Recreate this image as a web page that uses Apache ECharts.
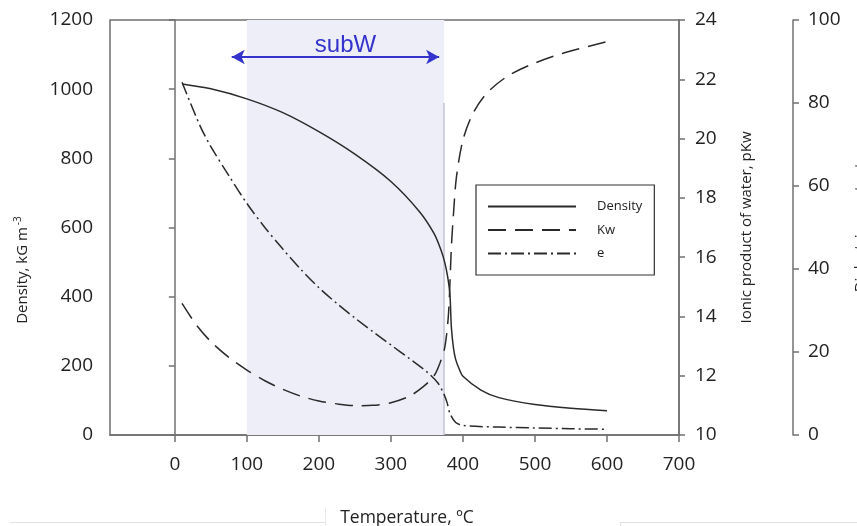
<!DOCTYPE html>
<html>
<head>
<meta charset="utf-8">
<script src="https://cdn.jsdelivr.net/npm/echarts@6/dist/echarts.min.js"></script>
<style>html,body{margin:0;padding:0;background:#fff}#c{width:857px;height:526px}</style>
</head>
<body>
<div id="c"></div>
<script>
// ---- data ----
const xTicks = [0, 100, 200, 300, 400, 500, 600, 700];
const densityT = [10, 50, 100, 150, 200, 250, 300, 340, 360, 370, 375, 379, 382, 384, 387, 390, 395, 400, 425, 450, 500, 550, 600];
const densityV = [1015, 1001, 972, 932, 877, 812, 733, 645, 582, 532, 497, 455, 405, 310, 250, 218, 190, 170, 130, 108, 88, 77, 70];
const kwT = [10, 30, 50, 75, 100, 125, 150, 175, 200, 225, 250, 275, 300, 325, 345, 360, 368, 375, 380, 384, 387, 391, 400, 414, 433, 461, 493, 539, 600];
const kwV = [14.44, 13.71, 13.15, 12.62, 12.19, 11.83, 11.54, 11.31, 11.15, 11.05, 10.99, 11.0, 11.09, 11.3, 11.63, 12.0, 12.42, 12.98, 14.1, 16.35, 17.5, 18.7, 19.95, 20.85, 21.53, 22.09, 22.48, 22.88, 23.27];
const eT = [10, 35, 50, 75, 100, 125, 150, 175, 200, 225, 250, 275, 300, 325, 350, 365, 373, 378, 382, 390, 400, 450, 500, 550, 600];
const eV = [85, 74.5, 69.5, 62.5, 55.8, 50, 44.8, 39.9, 35.5, 31.7, 28.2, 24.9, 21.7, 18.5, 15.2, 12.6, 10.1, 7.8, 5.2, 3, 2.3, 1.9, 1.7, 1.5, 1.4];
const subWRange = [100, 374];      // shaded sub-critical water region
const arrowRange = [79, 367];      // arrow end temperatures
const arrowLevel = 1093;           // arrow height on density axis
const criticalLineTop = 960;       // top of the vertical line at 374 °C

const pairs = (xs, ys) => xs.map((x, i) => [x, ys[i]]);

const FONT = '"Open Sans", "Liberation Sans", sans-serif';
const axisColor = '#707070';
const textColor = '#222222';
const plain = v => String(v);

const chart = echarts.init(document.getElementById('c'), null, {renderer: 'canvas'});
const option = {
  animation: false,
  backgroundColor: '#ffffff',
  grid: {left: 110, right: 178, top: 20, bottom: 91, containLabel: false, outerBoundsMode: 'none',
    show: true, borderColor: axisColor, borderWidth: 1.5, backgroundColor: 'transparent'},
  xAxis: {
    type: 'value', min: -90, max: 700,
    name: 'Temperature, ºC', nameLocation: 'middle', nameGap: 74,
    nameTextStyle: {fontFamily: FONT, fontSize: 17.5, color: textColor, padding: [0, 0, 0, 25]},
    axisLine: {lineStyle: {color: axisColor, width: 1.5}},
    axisTick: {show: true, length: 7, customValues: xTicks, lineStyle: {color: axisColor, width: 1.5}},
    axisLabel: {customValues: xTicks, margin: 20, fontFamily: FONT, fontSize: 19, color: textColor, formatter: plain},
    splitLine: {show: false}
  },
  yAxis: [
    {
      type: 'value', min: 0, max: 1200, interval: 200, position: 'left',
      name: '{a|Density, kG m}{s|-3}', nameLocation: 'middle', nameGap: 77,
      nameTextStyle: {fontFamily: FONT, fontSize: 15, color: textColor, padding: [0, 85, 0, 0],
        rich: {a: {fontFamily: FONT, fontSize: 15, color: textColor}, s: {fontFamily: FONT, fontSize: 10, color: textColor, verticalAlign: 'top', padding: [0, 0, 10, 2]}}},
      axisLine: {show: true, lineStyle: {color: axisColor, width: 1.5}},
      axisTick: {show: true, length: 6, lineStyle: {color: axisColor, width: 1.5}},
      axisLabel: {margin: 17, fontFamily: FONT, fontSize: 19, color: textColor, formatter: plain},
      splitLine: {show: false}
    },
    {
      type: 'value', min: 10, max: 24, interval: 2, position: 'right',
      name: 'Ionic product of water, pKw', nameLocation: 'middle', nameGap: 60,
      nameTextStyle: {fontFamily: FONT, fontSize: 15, color: textColor},
      axisLine: {show: true, lineStyle: {color: axisColor, width: 1.5}},
      axisTick: {show: true, length: 6, lineStyle: {color: axisColor, width: 1.5}},
      axisLabel: {margin: 16, fontFamily: FONT, fontSize: 19, color: textColor, formatter: plain},
      splitLine: {show: false}
    },
    {
      type: 'value', min: 0, max: 100, interval: 20, position: 'right', offset: 114,
      name: 'Dielectric constant', nameLocation: 'middle', nameGap: 60,
      nameTextStyle: {fontFamily: FONT, fontSize: 15, color: textColor},
      axisLine: {show: true, lineStyle: {color: axisColor, width: 1.5}},
      axisTick: {show: true, length: 6, lineStyle: {color: axisColor, width: 1.5}},
      axisLabel: {margin: 15, fontFamily: FONT, fontSize: 19, color: textColor, formatter: plain},
      splitLine: {show: false}
    }
  ],
  legend: {
    left: 476, top: 185, orient: 'vertical',
    padding: [15, 12, 15, 11], itemGap: 10.5, itemWidth: 88, itemHeight: 14,
    borderColor: '#333', borderWidth: 1.2, backgroundColor: '#fff',
    itemStyle: {opacity: 0, borderWidth: 0},
    textStyle: {fontFamily: FONT, fontSize: 13, color: textColor, padding: [0, 0, 0, 16]},
    data: ['Density', 'Kw', 'e']
  },
  series: [
    {
      name: 'Density', type: 'line', yAxisIndex: 0, data: pairs(densityT, densityV),
      showSymbol: false, symbol: 'none', smooth: 0.3,
      lineStyle: {color: '#2a2a2a', width: 1.5, type: 'solid'}, itemStyle: {color: '#2a2a2a'},
      z: 5,
      markArea: {
        silent: true, itemStyle: {color: '#EEEEF9'},
        data: [[{xAxis: subWRange[0]}, {xAxis: subWRange[1]}]]
      },
      markLine: {
        silent: true, symbol: 'none', animation: false,
        label: {show: false},
        data: [
          [{coord: [subWRange[1], 0], lineStyle: {color: '#c4c4d4', width: 1.5, type: 'solid'}}, {coord: [subWRange[1], criticalLineTop]}],
          [{coord: [arrowRange[0], arrowLevel], symbol: 'arrow', symbolSize: [11, 13], lineStyle: {color: '#3434cc', width: 2, type: 'solid'}},
           {coord: [arrowRange[1], arrowLevel], symbol: 'arrow', symbolSize: [11, 13]}]
        ]
      },
      markPoint: {
        silent: true, symbol: 'circle', symbolSize: 0,
        label: {show: true, position: 'inside', formatter: 'subW', fontFamily: '"Liberation Sans", Arial, sans-serif', fontSize: 24, color: '#3434cc'},
        data: [{coord: [237, 1128]}]
      }
    },
    {
      name: 'Kw', type: 'line', yAxisIndex: 1, data: pairs(kwT, kwV),
      showSymbol: false, symbol: 'none', smooth: 0.3,
      lineStyle: {color: '#2a2a2a', width: 1.5, type: [18, 9]}, itemStyle: {color: '#2a2a2a'},
      z: 5
    },
    {
      name: 'e', type: 'line', yAxisIndex: 2, data: pairs(eT, eV),
      showSymbol: false, symbol: 'none', smooth: 0.3,
      lineStyle: {color: '#2a2a2a', width: 1.5, type: [13, 4, 2, 4]}, itemStyle: {color: '#2a2a2a'},
      z: 5
    }
  ],
  graphic: [
    {type: 'line', silent: true, shape: {x1: 10, y1: 522.5, x2: 325, y2: 522.5}, style: {stroke: '#e2e2e2', lineWidth: 1}},
    {type: 'line', silent: true, shape: {x1: 325.5, y1: 507, x2: 325.5, y2: 526}, style: {stroke: '#e8e8e8', lineWidth: 1}},
    {type: 'line', silent: true, shape: {x1: 620, y1: 522.5, x2: 857, y2: 522.5}, style: {stroke: '#e2e2e2', lineWidth: 1}},
    {type: 'line', silent: true, shape: {x1: 620.5, y1: 522, x2: 620.5, y2: 526}, style: {stroke: '#e2e2e2', lineWidth: 1}}
  ]
};
chart.setOption(option);
</script>
</body>
</html>
